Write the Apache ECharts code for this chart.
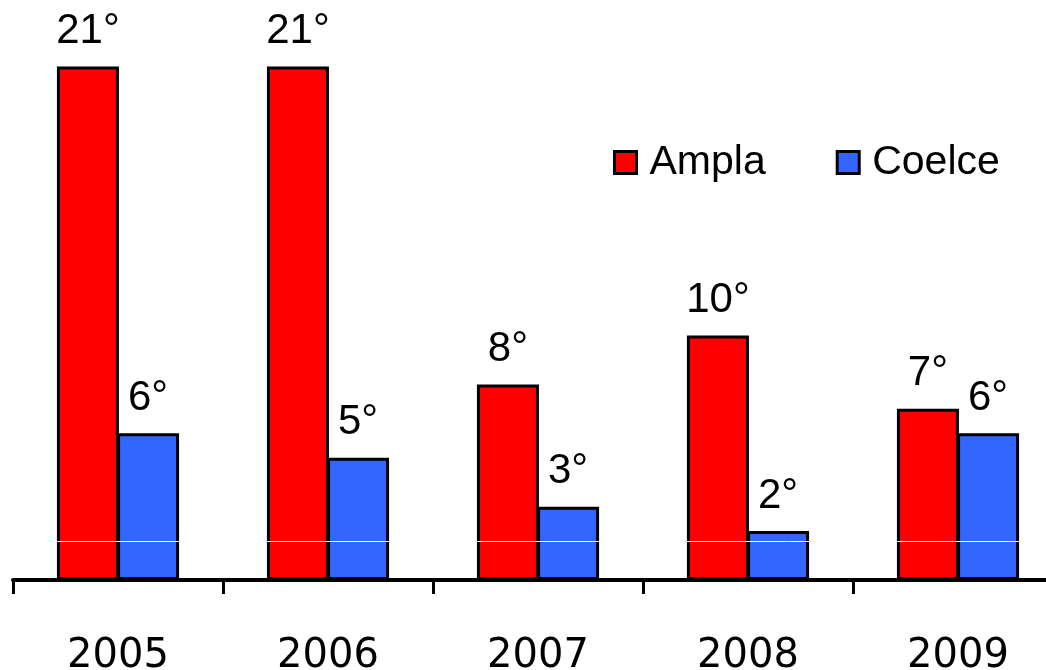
<!DOCTYPE html>
<html><head><meta charset="utf-8">
<script src="https://cdn.jsdelivr.net/npm/echarts@6/dist/echarts.min.js"></script>
<style>html,body{margin:0;padding:0;background:#fff}#c{width:1046px;height:670px}</style>
</head><body><div id="c"></div>
<script>
const categories = ['2005','2006','2007','2008','2009'];
const ampla = [21, 21, 8, 10, 7];
const coelce = [6, 5, 3, 2, 6];
const seriesNames = ['Ampla','Coelce'];

const chart = echarts.init(document.getElementById('c'));
const labelCfg = {
  show: true, position: 'top', distance: 14,
  formatter: p => p.value + '°',
  fontFamily: 'Liberation Sans, Arial', fontSize: 42, color: '#000'
};
chart.setOption({
  animation: false,
  backgroundColor: '#fff',
  legend: {
    data: seriesNames, left: 613, top: 142, padding: 0,
    itemWidth: 22, itemHeight: 22, itemGap: 70,
    icon: 'rect',
    itemStyle: { borderColor: '#000', borderWidth: 3 },
    textStyle: { fontFamily: 'Liberation Sans, Arial', fontSize: 41, color: '#000', padding: [0,0,0,8] }
  },
  grid: { left: 13, width: 1050, top: 17.6, bottom: 90, containLabel: false, outerBoundsMode: 'none' },
  xAxis: {
    type: 'category', data: categories,
    axisLine: { show: true, lineStyle: { color: '#000', width: 4 } },
    axisTick: { show: true, length: 14, lineStyle: { color: '#000', width: 3 } },
    axisLabel: { margin: 57, fontFamily: 'DejaVu Sans', fontSize: 40, color: '#000' }
  },
  yAxis: { type: 'value', min: 0, max: 23, show: false, splitLine: { show: false } },
  series: [
    { name: seriesNames[0], type: 'bar', data: ampla, barWidth: 62, barGap: '-3%',
      itemStyle: { color: '#FF0000', borderColor: '#000', borderWidth: 3 },
      label: labelCfg },
    { name: seriesNames[1], type: 'bar', data: coelce, barWidth: 62,
      itemStyle: { color: '#3366FF', borderColor: '#000', borderWidth: 3 },
      label: labelCfg,
      markLine: { silent: true, symbol: 'none', label: { show: false },
        lineStyle: { color: '#fff', width: 1, type: 'solid' },
        data: [{ yAxis: 1.6 }] } }
  ]
});
</script></body></html>
